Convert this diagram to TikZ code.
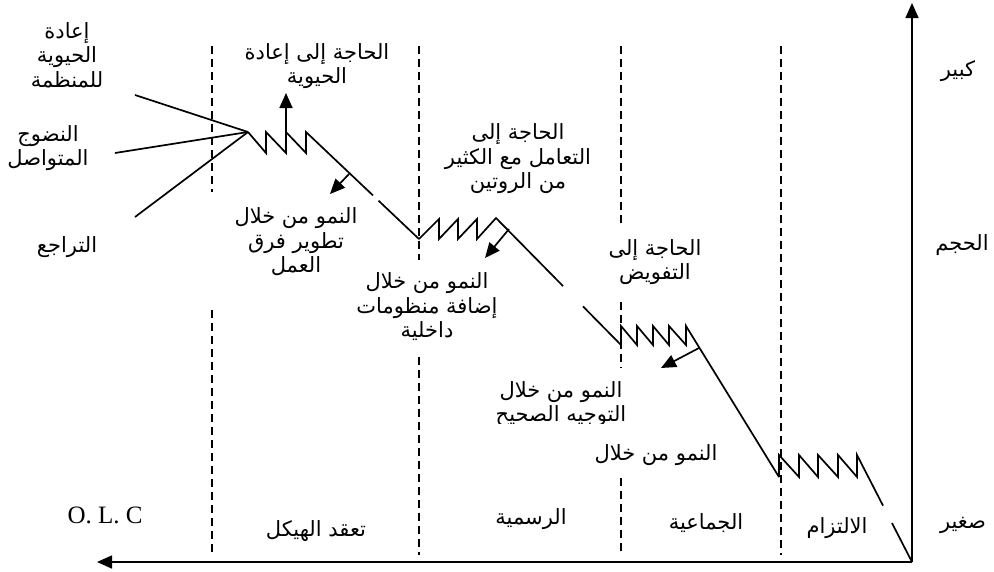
\documentclass[tikz,border=0pt]{standalone}
\usepackage{fontspec}
\setmainfont{Liberation Serif}
\newfontfamily\arabicfont[Script=Arabic]{DejaVu Sans}
\TeXXeTstate=1
\usetikzlibrary{arrows.meta,calc}
\newcommand\rl[1]{\beginR#1\endR}

\begin{document}
\begin{tikzpicture}[x=1pt,y=-1pt,
  ln/.style={line width=1.7pt, line join=miter},
  guide/.style={line width=1.6pt, dash pattern=on 8pt off 5pt},
  arr/.style={line width=1.7pt, -{Triangle[length=15pt,width=13pt]}},
  artext/.style={font=\arabicfont\fontsize{21}{24.5}\selectfont, align=center, inner sep=0pt},
  lattext/.style={font=\fontsize{25}{28}\selectfont, inner sep=0pt},
]
\fill[white] (0,0) rectangle (994,571);
\useasboundingbox (0,0) rectangle (994,571);

% axes
\coordinate (O) at (912,562);
\coordinate (ytip) at (912,3);
\coordinate (xtip) at (97,562);
\draw[arr] (O) -- (ytip);
\draw[arr] (O) -- (xtip);

% stage separators
\draw[guide] (212,46) -- (212,192) (212,310) -- (212,555);
\draw[guide] (419,46) -- (419,260) (419,357) -- (419,555);
\draw[guide] (621,46) -- (621,225) (621,302) -- (621,368) (621,478) -- (621,555);
\draw[guide] (781,46) -- (781,555);

% branches meeting at the top of the cycle
\coordinate (P0) at (248,132);
\coordinate (B1) at (135,95);
\coordinate (B2) at (115,153);
\coordinate (B3) at (135,217);
\draw[ln] (B1) -- (P0);
\draw[ln] (B2) -- (P0);
\draw[ln] (B3) -- (P0);

% key points of the life-cycle curve
\coordinate (z1e) at (306,132);
\coordinate (z2s) at (419,239);
\coordinate (z2e) at (496,218);
\coordinate (z3s) at (621,345);
\coordinate (z3e) at (686,326);
\coordinate (z4s) at (779,477);
\coordinate (z4e) at (857,455);

% crisis 1
\draw[ln] (P0) -- (266,153) -- (266,132) -- (286,153) -- (286,132) -- (306,153) -- (z1e)
  -- ($(z1e)!0.593!(z2s)$);
\draw[ln] ($(z1e)!0.642!(z2s)$) -- (z2s);
% crisis 2
\draw[ln] (z2s) -- (439,219) -- (439,239) -- (458,219) -- (458,239) -- (477,219) -- (477,239) -- (z2e)
  -- ($(z2e)!0.536!(z3s)$);
\draw[ln] ($(z2e)!0.696!(z3s)$) -- (z3s);
% crisis 3
\draw[ln] (z3s) -- (621,326) -- (637,345) -- (637,326) -- (653,345) -- (653,326) -- (669,345) -- (669,326)
  -- (686,345) -- (z3e) -- (z4s);
% crisis 4
\draw[ln] (z4s) -- (779,455) -- (799,477) -- (799,455) -- (818,477) -- (818,455) -- (838,477) -- (838,455)
  -- (857,477) -- (z4e) -- ($(z4e)!0.473!(O)$);
\draw[ln] ($(z4e)!0.636!(O)$) -- (O);

% growth arrows
\coordinate (up0) at (286,132);
\coordinate (up1) at (286,93);
\draw[arr] (up0) -- (up1);
\coordinate (a1s) at (349,174);
\coordinate (a1e) at (330,194);
\draw[arr] (a1s) -- (a1e);
\coordinate (a2s) at (509,229);
\coordinate (a2e) at (485,258);
\draw[arr] (a2s) -- (a2e);
\coordinate (a3s) at (699,348);
\coordinate (a3e) at (661,368);
\draw[arr] (a3s) -- (a3e);

% labels
\node[artext] (revital) at (67,55) {\rl{إعادة}\\\rl{الحيوية}\\\rl{للمنظمة}};
\node[artext] (mature) at (48,148) {\rl{النضوج}\\\rl{المتواصل}};
\node[artext] (decline) at (67,247) {\rl{التراجع}};
\node[artext] (needrev) at (317,66) {\rl{الحاجة إلى إعادة}\\\rl{الحيوية}};
\node[artext] (teams) at (296,242) {\rl{النمو من خلال}\\\rl{تطوير فرق}\\\rl{العمل}};
\node[artext] (routine) at (518,159) {\rl{الحاجة إلى}\\\rl{التعامل مع الكثير}\\\rl{من الروتين}};
\node[artext] (systems) at (427,307) {\rl{النمو من خلال}\\\rl{إضافة منظومات}\\\rl{داخلية}};
\node[artext] (deleg) at (655,262) {\rl{الحاجة إلى}\\\rl{التفويض}};
% this text box is cut off at its lower edge
\begin{scope}
  \clip (470,370) rectangle (650,423);
  \node[artext] (direct) at (561,404) {\rl{النمو من خلال}\\\rl{التوجيه الصحيح}};
\end{scope}
\node[artext] (through) at (656,455) {\rl{النمو من خلال}};

\node[artext] (st1) at (316,531) {\rl{تعقد الهيكل}};
\node[artext] (st2) at (531,519) {\rl{الرسمية}};
\node[artext] (st3) at (706,523) {\rl{الجماعية}};
\node[artext] (st4) at (837,528) {\rl{الالتزام}};

\node[artext] (big) at (958,71) {\rl{كبير}};
\node[artext] (size) at (962,245) {\rl{الحجم}};
\node[artext] (small) at (963,525) {\rl{صغير}};
\node[lattext] (olc) at (105,515) {O. L. C};
\end{tikzpicture}
\end{document}
